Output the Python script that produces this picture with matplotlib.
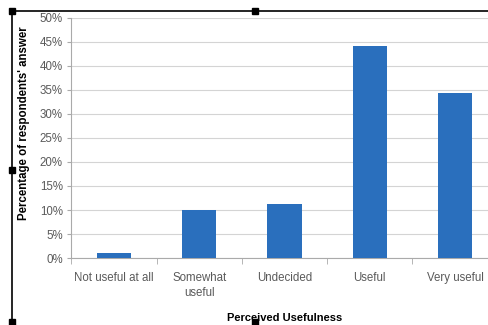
import matplotlib.pyplot as plt
from matplotlib.patches import Rectangle
from matplotlib.ticker import MultipleLocator, PercentFormatter

categories = ['Not useful at all', 'Somewhat\nuseful', 'Undecided', 'Useful', 'Very useful']
shares = [1.0, 10.0, 11.2, 44.2, 34.4]

plt.rcParams['font.family'] = ['Liberation Sans', 'DejaVu Sans']

fig = plt.figure(figsize=(4.88, 3.25), dpi=100)
ax = fig.add_axes([0.146, 0.206, 0.874, 0.739])

x = range(len(categories))
ax.bar(x, shares, width=0.4, color='#2a6fbd', zorder=3)

ax.set_xlim(-0.5, len(categories) - 0.5)
ax.set_ylim(0, 50)
ax.yaxis.set_major_locator(MultipleLocator(5))
ax.yaxis.set_major_formatter(PercentFormatter(decimals=0))
ax.grid(axis='y', color='#d4d4d4', linewidth=0.8, zorder=0)

ax.set_xticks(list(x))
ax.set_xticklabels(categories, linespacing=1.3)
ax.set_xticks([i + 0.5 for i in range(-1, len(categories))], minor=True)
ax.tick_params(axis='x', which='major', length=0, pad=10, labelsize=8.3, labelcolor='#5a5a5a')
ax.tick_params(axis='x', which='minor', length=4, color='#aaaaaa')
ax.tick_params(axis='y', length=3, color='#aaaaaa', labelsize=8.3, labelcolor='#5a5a5a', pad=3)

for side in ['top', 'right']:
    ax.spines[side].set_visible(False)
ax.spines['left'].set_color('#aaaaaa')
ax.spines['bottom'].set_color('#aaaaaa')

ax.set_ylabel("Percentage of respondents' answer", fontsize=8.3, fontweight='bold')
ax.yaxis.set_label_coords(-0.097, 0.56)
ax.set_xlabel('Perceived Usefulness', fontsize=8, fontweight='bold')
ax.xaxis.set_label_coords(0.5, -0.23)

# selection frame and its handles
fig.add_artist(plt.Line2D([12 / 488, 1], [1 - 11 / 325] * 2, color='black', lw=1.2))
fig.add_artist(plt.Line2D([12 / 488] * 2, [1 - 11 / 325, 1 - 322 / 325], color='black', lw=1.2))
for hx, hy in [(12, 11), (255, 11), (12, 170), (12, 322), (255, 322)]:
    fig.add_artist(Rectangle(((hx - 3) / 488, 1 - (hy + 3) / 325), 6 / 488, 6 / 325,
                             color='black', transform=fig.transFigure))

fig.savefig('out.png', dpi=100)
